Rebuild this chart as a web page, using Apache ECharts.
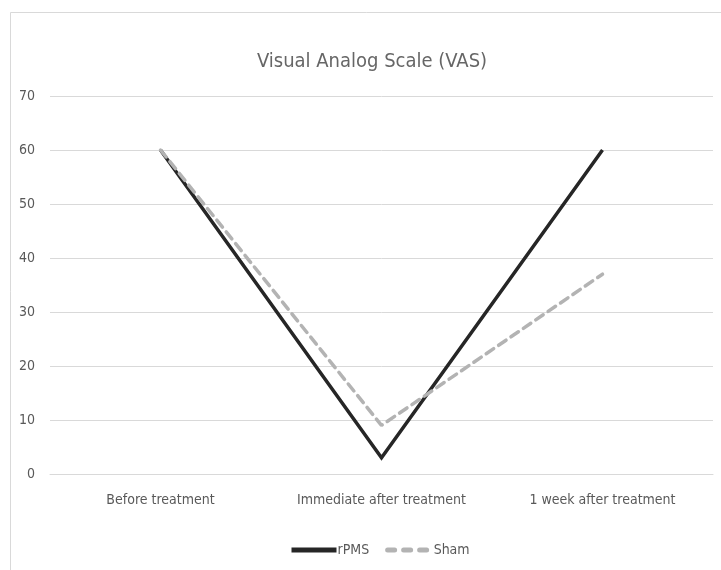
<!DOCTYPE html>
<html>
<head>
<meta charset="utf-8">
<script src="https://cdn.jsdelivr.net/npm/echarts@6/dist/echarts.min.js"></script>
<style>
  html, body { margin: 0; padding: 0; background: #fff; }
  #chart { width: 721px; height: 570px; }
</style>
</head>
<body>
<div id="chart"></div>
<script>
// Visual Analog Scale scores over the three assessment points
const categories = ['Before treatment', 'Immediate after treatment', '1 week after treatment'];
const rPMS = [60, 3, 60];
const sham = [60, 9, 37];
const yTicks = { min: 0, max: 70, step: 10 };

const FONT = '"Liberation Sans Narrow", "DejaVu Sans Condensed", "Open Sans", sans-serif';
const TEXT = '#595959';

const chart = echarts.init(document.getElementById('chart'), null, { renderer: 'canvas' });
chart.setOption({
  backgroundColor: '#fff',
  animation: false,
  textStyle: { fontFamily: FONT, color: TEXT },
  title: {
    text: 'Visual Analog Scale (VAS)',
    left: 367, textAlign: 'center', top: 47,
    textStyle: { fontFamily: FONT, fontWeight: 'normal', fontSize: 20, color: '#666666' }
  },
  graphic: [{
    type: 'rect', silent: true, z: -1,
    shape: { x: 10.5, y: 12.5, width: 800, height: 700 },
    style: { fill: 'none', stroke: '#d9d9d9', lineWidth: 1 }
  }],
  legend: {
    left: 284, top: 538,
    itemWidth: 45, itemHeight: 14, itemGap: 16,
    itemStyle: { opacity: 0 },
    textStyle: { fontFamily: FONT, fontSize: 14, color: TEXT, padding: [0, 0, 0, -4] },
    data: [
      { name: 'rPMS', lineStyle: { width: 5, cap: 'butt' } },
      { name: 'Sham', lineStyle: { width: 5, cap: 'round', type: [7, 9] } }
    ]
  },
  grid: { left: 50, right: 8, top: 96, bottom: 96 },
  xAxis: {
    type: 'category', data: categories, boundaryGap: true,
    axisLine: { show: true, lineStyle: { color: '#d9d9d9', width: 1 } },
    axisTick: { show: false },
    axisLabel: { interval: 0, fontFamily: FONT, fontSize: 14, color: TEXT, margin: 19 }
  },
  yAxis: {
    type: 'value', min: yTicks.min, max: yTicks.max, interval: yTicks.step,
    axisLine: { show: false }, axisTick: { show: false },
    axisLabel: { fontFamily: FONT, fontSize: 14, color: TEXT, margin: 15 },
    splitLine: { lineStyle: { color: '#d9d9d9', width: 1 } }
  },
  series: [
    {
      name: 'rPMS', type: 'line', data: rPMS, symbol: 'none',
      lineStyle: { color: '#262626', width: 3.5, join: 'miter', cap: 'butt' },
      itemStyle: { color: '#262626' }, z: 3
    },
    {
      name: 'Sham', type: 'line', data: sham, symbol: 'none',
      lineStyle: { color: '#b3b3b3', width: 3.5, type: [9, 6], cap: 'round' },
      itemStyle: { color: '#b3b3b3' }, z: 4
    }
  ]
});
</script>
</body>
</html>
